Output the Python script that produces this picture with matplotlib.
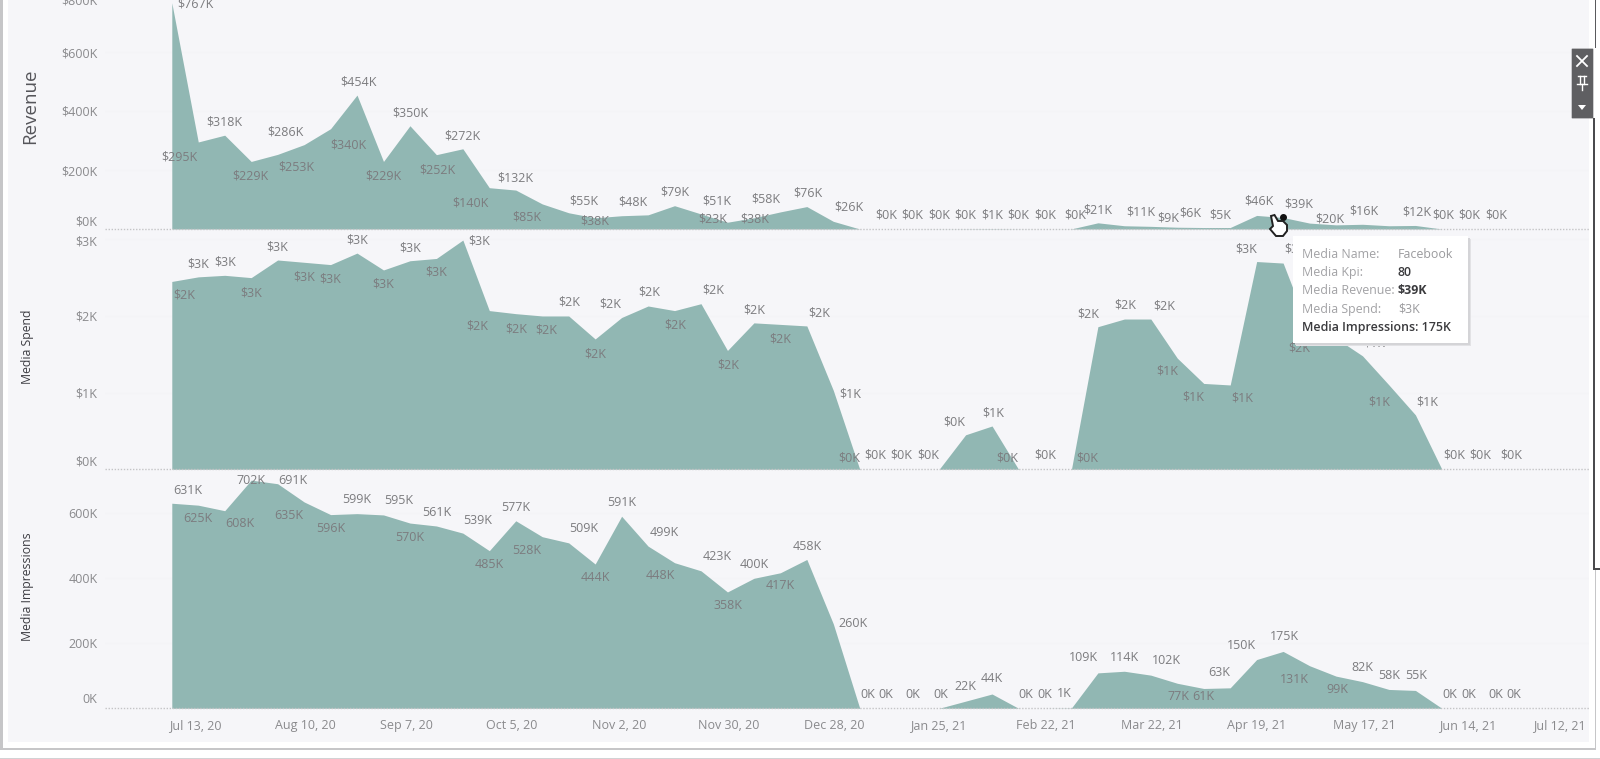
import matplotlib
matplotlib.use("Agg")
import matplotlib.pyplot as plt
import matplotlib.dates as mdates
import pandas as pd
from matplotlib.patches import Rectangle, FancyBboxPatch, Polygon
from matplotlib.lines import Line2D
from matplotlib.transforms import Affine2D

plt.rcParams['font.family'] = ['Open Sans', 'DejaVu Sans']

W, H = 1600, 759
weeks = pd.date_range('2020-07-13', periods=53, freq='7D')

tick_dates = ['2020-07-13', '2020-08-10', '2020-09-07', '2020-10-05', '2020-11-02', '2020-11-30', '2020-12-28',
              '2021-01-25', '2021-02-22', '2021-03-22', '2021-04-19', '2021-05-17', '2021-06-14', '2021-07-12']
tick_labels = ['Jul 13, 20', 'Aug 10, 20', 'Sep 7, 20', 'Oct 5, 20', 'Nov 2, 20', 'Nov 30, 20', 'Dec 28, 20',
               'Jan 25, 21', 'Feb 22, 21', 'Mar 22, 21', 'Apr 19, 21', 'May 17, 21', 'Jun 14, 21', 'Jul 12, 21']

revenue = [767, 295, 318, 229, 253, 286, 340, 454, 229, 350,
           252, 272, 140, 132, 85, 55, 38, 45, 48, 79,
           51, 23, 38, 58, 76, 26, 0, 0, 0, 0.3,
           0.5, 1, 0.3, 0, 0.4, 21, 11, 9, 6, 5,
           5, 46, 39, 20, 14, 16, 11, 12, 0, 0, 0]
revenue_text = ['$767K', '$295K', '$318K', '$229K', '$253K', '$286K', '$340K', '$454K', '$229K', '$350K',
                '$252K', '$272K', '$140K', '$132K', '$85K', '$55K', '$38K', '', '$48K', '$79K',
                '$51K', '$23K', '$38K', '$58K', '$76K', '$26K', '', '$0K', '$0K', '$0K',
                '$0K', '$1K', '$0K', '$0K', '$0K', '$21K', '$11K', '$9K', '$6K', '',
                '$5K', '$46K', '$39K', '$20K', '', '$16K', '', '$12K', '$0K', '$0K', '$0K']
revenue_dx = [24, -19, 0, -1, 19, -19, 18, 1, 0, 0,
              1, 0, -19, 0, -15, 15, 0, 0, -15, 0,
              16, -15, 1, -15, 1, 16, 0, 0, 0, 0,
              0, 0, 0, 0, 4, 0, 16, 17, 13, 0,
              -10, 2, 16, 20, 0, 1, 0, 1, 1, 1, 1]
revenue_dy = [1, 15, -13, 15, 13, -13, 16, -13, 15, -13,
              15, -13, 15, -12, 13, -12, 3, 0, -13, -14,
              -13, -3, 1, -13, -14, -14, 0, -14, -14, -14,
              -14, -14, -14, -14, -14, -13, -14, -8, -14, 0,
              -13, -14, -13, -4, 0, -13, 0, -13, -14, -14, -14]

spend = [2.45, 2.51, 2.53, 2.50, 2.73, 2.70, 2.67, 2.82, 2.60, 2.72,
         2.75, 2.99, 2.07, 2.03, 2.00, 2.00, 1.70, 1.98, 2.13, 2.07,
         2.16, 1.55, 1.91, 1.89, 1.87, 1.03, 0, 0, 0, 0,
         0.45, 0.565, 0, 0, 0, 1.86, 1.96, 1.96, 1.45, 1.12,
         1.10, 2.71, 2.69, 1.80, 1.71, 1.48, 1.10, 0.71, 0, 0, 0, 0]
spend_text = ['$2K', '$3K', '$3K', '$3K', '$3K', '$3K', '$3K', '$3K', '$3K', '$3K',
              '$3K', '$3K', '$2K', '$2K', '$2K', '$2K', '$2K', '$2K', '$2K', '$2K',
              '$2K', '$2K', '$2K', '$2K', '$2K', '$1K', '$0K', '$0K', '$0K', '$0K',
              '$0K', '$1K', '$0K', '$0K', '$0K', '$2K', '$2K', '$2K', '$1K', '$1K',
              '$1K', '$3K', '$3K', '$2K', '', '$1K', '$1K', '$1K', '$0K', '$0K', '$0K', '']
spend_dx = [12, 0, 0, 0, 0, 0, 0, 0, 0, 0,
            0, 16, -12, 0, 4, 1, 0, -11, 1, 1,
            12, 1, 0, 0, 12, 17, -11, -11, -11, -11,
            -11, 1, -11, 0, 16, -10, 1, 13, -10, -10,
            12, -10, 12, -10, 0, 12, -10, 12, 12, 12, 16, 0]
spend_dy = [14, -13, -13, 15, -13, 15, 14, -13, 14, -13,
            14, 1, 15, 15, 14, -14, 15, -13, -14, 14,
            -14, 15, -13, 15, -13, 4, -11, -14, -14, -14,
            -13, -13, -11, -14, -11, -13, -14, -13, 13, 14,
            13, -13, -14, 17, 0, -13, 17, -13, -14, -14, -14, 0]

impressions = [631, 625, 608, 702, 691, 635, 596, 599, 595, 570,
               561, 539, 485, 577, 528, 509, 444, 591, 499, 448,
               423, 358, 400, 417, 458, 260, 0, 0, 0, 0,
               22, 44, 0, 0, 1, 109, 114, 102, 77, 61,
               63, 150, 175, 131, 99, 82, 58, 55, 0, 0, 0, 0]
impressions_text = ['631K', '625K', '608K', '702K', '691K', '635K', '596K', '599K', '595K', '570K',
                    '561K', '539K', '485K', '577K', '528K', '509K', '444K', '591K', '499K', '448K',
                    '423K', '358K', '400K', '417K', '458K', '260K', '0K', '0K', '0K', '0K',
                    '22K', '44K', '0K', '0K', '1K', '109K', '114K', '102K', '77K', '61K',
                    '63K', '150K', '175K', '131K', '99K', '82K', '58K', '55K', '0K', '0K', '0K', '0K']
impressions_dx = [16, 0, 15, 0, 15, -15, 0, 0, 15, 0,
                  0, 15, 0, 0, -15, 15, 0, 0, 16, -14,
                  16, 1, 0, 0, 0, 20, 8, 0, 0, 2,
                  0, 0, 7, 0, -7, -14, 0, 16, 1, 0,
                  -11, -15, 1, -15, 1, 0, 0, 1, 8, 0, 1, -7]
impressions_dy = [-13, 13, 13, 0, -3, 14, 14, -14, -14, 14,
                  -13, -13, 14, -13, 14, -14, 14, -14, -14, 13,
                  -14, 14, -14, 13, -13, 0, -14, -14, -14, -14,
                  -15, -15, -14, -14, -14, -15, -14, -15, 13, 8,
                  -15, -14, -15, 14, 13, -14, -14, -15, -14, -14, -14, -14]

revenue_ticks = [0, 200, 400, 600, 800]
revenue_tick_text = ['$0K', '$200K', '$400K', '$600K', '$800K']
spend_ticks = [0, 1, 2, 3]
spend_tick_text = ['$0K', '$1K', '$2K', '$3K']
impressions_ticks = [0, 200, 400, 600]
impressions_tick_text = ['0K', '200K', '400K', '600K']

tooltip_names = ['Media Name:', 'Media Kpi:', 'Media Revenue:', 'Media Spend:']
tooltip_values = ['Facebook', '80', '$39K', '$3K']
tooltip_last = 'Media Impressions: 175K'

PANE = '#F6F6F9'
AREA = '#91B7B3'
TXT = '#7c7c7f'
AXT = '#8a8a8d'

fig = plt.figure(figsize=(W / 100, H / 100), dpi=100, facecolor='white')


def rect(x0, y0, x1, y1, color, z=0):
    fig.add_artist(Rectangle((x0 / W, 1 - y1 / H), (x1 - x0) / W, (y1 - y0) / H, transform=fig.transFigure,
                             facecolor=color, edgecolor='none', zorder=z))


def ftext(x, y, s, **kw):
    fig.text(x / W, 1 - y / H, s, **kw)


rect(8, 0, 1589, 742, PANE, -5)
rect(0, 0, 3, 750, '#c6c6c8', -4)
rect(0, 748, 1596, 750, '#c6c6c8', -4)
rect(0, 757.5, 1600, 759, '#d2d2d4', -4)
rect(1594.5, 570, 1596, 750, '#c6c6c8', -4)
rect(1592.5, 118, 1594.5, 570, '#4a4a4d', -4)
rect(1594.5, 568, 1600, 570, '#4a4a4d', -4)
rect(1594.5, 0, 1596, 48, '#5a5a5d', -4)

L, R = 105, 1589
xpx0, wkpx = 171.8, 26.46
d0 = mdates.date2num(weeks[0])
xlim = (d0 + (L - xpx0) / wkpx * 7, d0 + (R - xpx0) / wkpx * 7)


def make_panel(top, base, pxperunit, values, texts, dxs, dys, ticks, tick_text, zero_shift, top_shift=0):
    assert len(values) == len(texts) == len(dxs) == len(dys)
    ax = fig.add_axes([L / W, 1 - base / H, (R - L) / W, (base - top) / H])
    ax.patch.set_alpha(0)
    ax.set_xlim(*xlim)
    ax.set_ylim(0, (base - top) / pxperunit)
    x = mdates.date2num(weeks[:len(values)])
    for t in ticks[1:]:
        ax.axhline(t, color='#f4f4f7', lw=1, zorder=0)
    ax.fill_between(x, 0, values, color=AREA, lw=0, zorder=2)
    ax.axhline(0, color='#c4c4c6', lw=1, ls=(0, (1, 1.2)), zorder=3, clip_on=False)
    for xi, v, s, dx, dy in zip(x, values, texts, dxs, dys):
        if s:
            ax.annotate(s, (xi, v), xytext=(dx, -dy), textcoords='offset pixels', ha='center', va='center',
                        fontsize=9, color=TXT, zorder=5, annotation_clip=False)
    for sp in ax.spines.values():
        sp.set_visible(False)
    ax.set_yticks(ticks)
    ax.set_yticklabels(tick_text, fontsize=9, color=AXT)
    ax.tick_params(axis='y', length=0, pad=5.4)
    ax.set_xticks([])
    lab = ax.get_yticklabels()
    lab[0].set_transform(lab[0].get_transform() + Affine2D().translate(0, zero_shift))
    if top_shift:
        lab[-1].set_transform(lab[-1].get_transform() + Affine2D().translate(0, top_shift))
    return ax


ax1 = make_panel(-12, 229, 0.295, revenue, revenue_text, revenue_dx, revenue_dy, revenue_ticks, revenue_tick_text, 8, -6)
ax2 = make_panel(236, 469.3, 76.67, spend, spend_text, spend_dx, spend_dy, spend_ticks, spend_tick_text, 9, -1)
ax3 = make_panel(470, 708.3, 0.325, impressions, impressions_text, impressions_dx, impressions_dy,
                 impressions_ticks, impressions_tick_text, 10)

ax3.set_xticks(mdates.date2num(pd.to_datetime(tick_dates)))
ax3.set_xticklabels(tick_labels, fontsize=9, color=AXT, ha='left')
ax3.tick_params(axis='x', length=0, pad=8)
xl = ax3.get_xticklabels()
for t in xl[:-1]:
    t.set_transform(t.get_transform() + Affine2D().translate(-3, 0))
xl[-1].set_ha('right')
xl[-1].set_transform(xl[-1].get_transform() + Affine2D().translate(38, 0))

ftext(30.5, 106, 'Revenue', rotation=90, ha='center', va='center', fontsize=13.5, color='#55555a')
ftext(27, 347, 'Media Spend', rotation=90, ha='center', va='center', fontsize=8.8, color='#3c3c42')
ftext(27, 587, 'Media Impressions', rotation=90, ha='center', va='center', fontsize=8.8, color='#3c3c42')

# Tooltip
for off, c in ((3, '#e2e2e5'), (1.5, '#d4d4d7')):
    rect(1293 + off, 236 + off, 1468 + off, 343 + off, c, 8)
rect(1293, 236, 1468, 343, 'white', 9)
ys = [254, 272, 291, 309]
val_col = ['#9a9a9d', '#3a3a3d', '#3a3a3d', '#9a9a9d']
val_w = ['normal', 'semibold', 'bold', 'normal']
for y, n, v, c, w in zip(ys, tooltip_names, tooltip_values, val_col, val_w):
    fig.text(1302 / W, 1 - y / H, n, fontsize=8.9, color='#a2a2a5', va='center', zorder=10)
    fig.text(1398 / W, 1 - y / H, v, fontsize=8.9, color=c, va='center', weight=w, zorder=10)
fig.text(1302 / W, 1 - 328 / H, tooltip_last, fontsize=8.9, color='#3a3a3d', va='center', weight='semibold', zorder=10)

# Highlighted point and hand cursor
ax1.plot(mdates.date2num(weeks[42]), revenue[42], 'o', ms=4, color='#111111', zorder=7, clip_on=False)
hand = [(1271, 216), (1274.5, 215), (1278, 221), (1283, 221), (1287, 225), (1287, 231), (1283, 236), (1276, 236),
        (1270, 229), (1273, 226)]
fig.add_artist(Polygon([(a / W, 1 - b / H) for a, b in hand], transform=fig.transFigure, facecolor='white',
                       edgecolor='#222222', lw=1.4, zorder=11))

# Floating control strip
fig.add_artist(FancyBboxPatch((1572.5 / W, 1 - 118 / H), 20 / W, 69 / H, boxstyle='round,pad=0.0005',
                              transform=fig.transFigure, facecolor='#5f5f62', edgecolor='none', zorder=12))
for a, b, c, d in ((1577, 56, 1587, 66), (1577, 66, 1587, 56)):
    fig.add_artist(Line2D([a / W, c / W], [1 - b / H, 1 - d / H], transform=fig.transFigure, color='white', lw=1.3,
                          zorder=13))
for xs, ys_ in (([1578, 1586], [76, 76]), ([1580, 1580], [76, 84]), ([1584, 1584], [76, 84]),
                ([1577, 1587], [84, 84]), ([1582, 1582], [84, 90])):
    fig.add_artist(Line2D([v / W for v in xs], [1 - v / H for v in ys_], transform=fig.transFigure, color='white',
                          lw=1, zorder=13))
fig.add_artist(Polygon([(1578 / W, 1 - 105 / H), (1586 / W, 1 - 105 / H), (1582 / W, 1 - 110 / H)],
                       transform=fig.transFigure, facecolor='white', edgecolor='none', zorder=13))

fig.savefig('out.png', dpi=100, facecolor='white')
